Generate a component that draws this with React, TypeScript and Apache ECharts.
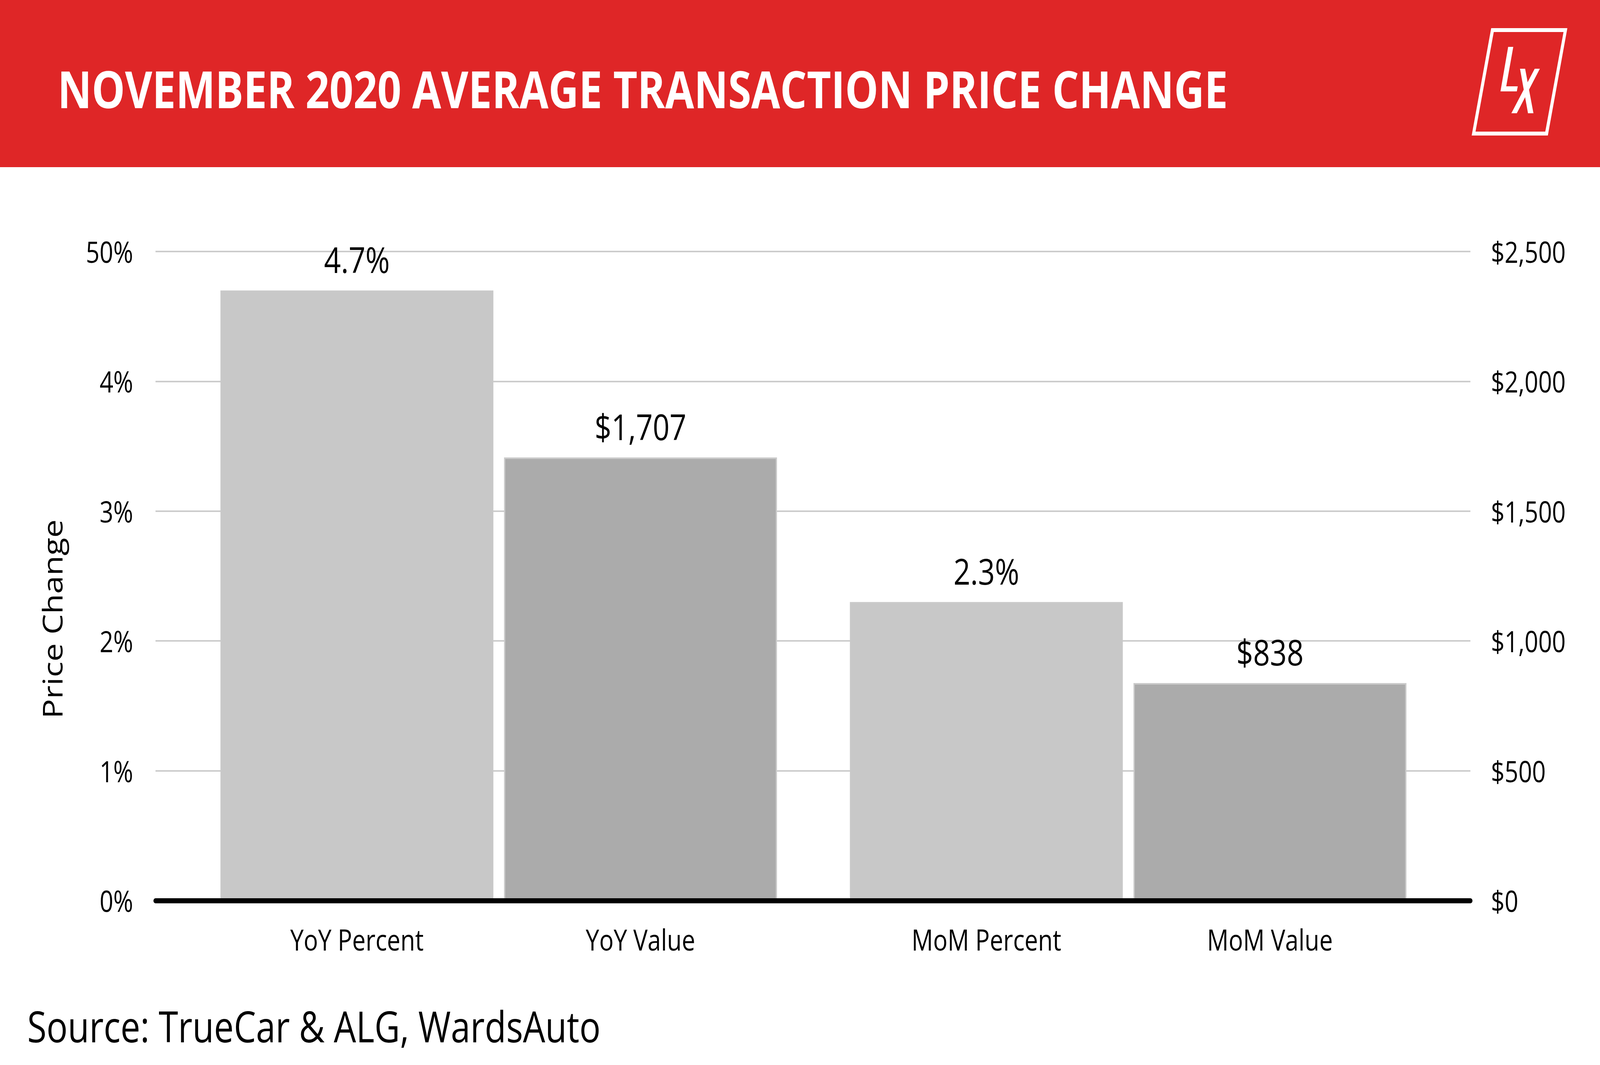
import React, { useEffect, useRef } from "react";
import * as echarts from "echarts";

const groups = ["YoY", "MoM"];
const barNames = ["YoY Percent", "YoY Value", "MoM Percent", "MoM Value"];
const percentValues = [4.7, 2.3];
const dollarValues = [1707, 838];
const leftTickLabels = ["0%", "1%", "2%", "3%", "4%", "50%"];
const rightTickLabels = ["$0", "$500", "$1,000", "$1,500", "$2,000", "$2,500"];
const titleText = "NOVEMBER 2020 AVERAGE TRANSACTION PRICE CHANGE";
const sourceText = "Source: TrueCar & ALG, WardsAuto";
const axisName = "Price Change";

const FONT = "'Open Sans', 'Noto Sans', sans-serif";
const RED = "#DF2627";
const DESIGN_W = 5000;
const DESIGN_H = 2727;

export default function App() {
  const ref = useRef<HTMLDivElement>(null);
  const vw = typeof window !== "undefined" ? window.innerWidth : DESIGN_W;
  const vh = typeof window !== "undefined" ? window.innerHeight : DESIGN_H;
  const sx = Math.min(1, vw / DESIGN_W);
  const sy = Math.min(1, vh / DESIGN_H);

  useEffect(() => {
    document.body.style.margin = "0";
    document.body.style.overflow = "hidden";
    document.documentElement.style.overflow = "hidden";
    const chart = echarts.init(ref.current!, null, { renderer: "svg" });
    const gridTop = 644;
    const gridBottom = 421;
    const option: any = {
      animation: false,
      backgroundColor: "#ffffff",
      textStyle: { fontFamily: FONT },
      grid: [
        { left: 486, right: 405, top: gridTop, bottom: gridBottom },
        { left: 575, right: 491, top: gridTop, bottom: gridBottom },
      ],
      xAxis: [
        {
          type: "category",
          gridIndex: 0,
          data: groups,
          z: 10,
          axisLine: { show: true, lineStyle: { color: "#000000", width: 13 } },
          axisTick: { show: false },
          axisLabel: { show: false },
        },
        {
          type: "category",
          gridIndex: 1,
          data: groups,
          axisLine: { show: false },
          axisTick: { show: false },
          axisLabel: {
            show: true,
            margin: 62,
            formatter: (_v: string, i: number) =>
              `{l|${barNames[i * 2]}}{r|${barNames[i * 2 + 1]}}`,
            rich: {
              l: { width: 886, align: "center", fontSize: 75, color: "#000", fontFamily: FONT },
              r: { width: 886, align: "center", fontSize: 75, color: "#000", fontFamily: FONT },
            },
          },
        },
      ],
      yAxis: [
        {
          type: "value",
          gridIndex: 0,
          min: 0,
          max: 5,
          interval: 1,
          axisLine: { show: false },
          axisTick: { show: false },
          splitLine: { show: true, lineStyle: { color: "#cccccc", width: 4 } },
          axisLabel: {
            margin: 70,
            fontSize: 75,
            color: "#000",
            fontFamily: FONT,
            formatter: (v: number) => leftTickLabels[Math.round(v)],
          },
        },
        {
          type: "value",
          gridIndex: 0,
          position: "right",
          min: 0,
          max: 2500,
          interval: 500,
          axisLine: { show: false },
          axisTick: { show: false },
          splitLine: { show: false },
          axisLabel: {
            margin: 64,
            fontSize: 75,
            color: "#000",
            fontFamily: FONT,
            padding: [0, 0, 40, 0],
            formatter: (v: number) => rightTickLabels[Math.round(v / 500)],
          },
        },
        { type: "value", gridIndex: 1, min: 0, max: 5, interval: 1, show: false },
        { type: "value", gridIndex: 1, position: "right", min: 0, max: 2500, interval: 500, show: false },
      ],
      series: [
        {
          type: "bar",
          name: "Percent",
          xAxisIndex: 1,
          yAxisIndex: 2,
          data: percentValues,
          barWidth: 853,
          barGap: "3.9%",
          itemStyle: { color: "#c8c8c8", borderColor: "#c9c9c9", borderWidth: 4 },
          label: {
            show: true,
            position: "top",
            distance: 34,
            fontSize: 92,
            color: "#000",
            fontFamily: FONT,
            formatter: (p: any) => `${Number(p.value).toFixed(1)}%`,
          },
        },
        {
          type: "bar",
          name: "Value",
          xAxisIndex: 1,
          yAxisIndex: 3,
          data: dollarValues,
          barWidth: 853,
          barGap: "3.9%",
          itemStyle: { color: "#ababab", borderColor: "#cacaca", borderWidth: 4 },
          label: {
            show: true,
            position: "top",
            distance: 34,
            fontSize: 92,
            color: "#000",
            fontFamily: FONT,
            formatter: (p: any) => `$${Number(p.value).toLocaleString("en-US")}`,
          },
        },
      ],
      graphic: [
        { type: "rect", shape: { x: 0, y: 0, width: DESIGN_W, height: 428 }, style: { fill: RED }, z: 1 },
        {
          type: "text",
          x: 180,
          y: 226,
          z: 2,
          style: {
            text: titleText,
            fill: "#ffffff",
            fontSize: 131,
            fontWeight: "bold",
            fontFamily: FONT,
            textAlign: "left",
            textVerticalAlign: "middle",
          },
        },
        {
          type: "polygon",
          z: 2,
          shape: { points: [[4660, 72], [4898, 72], [4837, 347], [4599, 347]] },
          style: { fill: "#ffffff" },
        },
        {
          type: "polygon",
          z: 3,
          shape: { points: [[4668, 82], [4886, 82], [4829, 337], [4611, 337]] },
          style: { fill: RED },
        },
        {
          type: "polygon",
          z: 4,
          shape: { points: [[4713, 120], [4729, 120], [4707, 221], [4743, 221], [4740, 234], [4689, 234]] },
          style: { fill: "#ffffff" },
        },
        {
          type: "polygon",
          z: 4,
          shape: { points: [[4750, 176], [4766, 176], [4792, 290], [4775, 290]] },
          style: { fill: "#ffffff" },
        },
        {
          type: "polygon",
          z: 4,
          shape: { points: [[4796, 176], [4812, 176], [4740, 290], [4723, 290]] },
          style: { fill: "#ffffff" },
        },
        {
          type: "text",
          x: 163,
          y: 1585,
          rotation: Math.PI / 2,
          style: { text: axisName, fill: "#000", fontSize: 84, fontFamily: FONT, textAlign: "center", textVerticalAlign: "middle" },
        },
        {
          type: "text",
          x: 85,
          y: 2626,
          style: { text: sourceText, fill: "#000", fontSize: 110, fontFamily: FONT, textAlign: "left", textVerticalAlign: "middle" },
        },
      ],
    };
    chart.setOption(option);
    return () => chart.dispose();
  }, []);

  return (
    <div style={{ width: vw, height: vh, overflow: "hidden", position: "relative" }}>
      <div
        ref={ref}
        style={{
          width: DESIGN_W,
          height: DESIGN_H,
          transform: `scale(${sx}, ${sy})`,
          transformOrigin: "0 0",
        }}
      />
    </div>
  );
}
